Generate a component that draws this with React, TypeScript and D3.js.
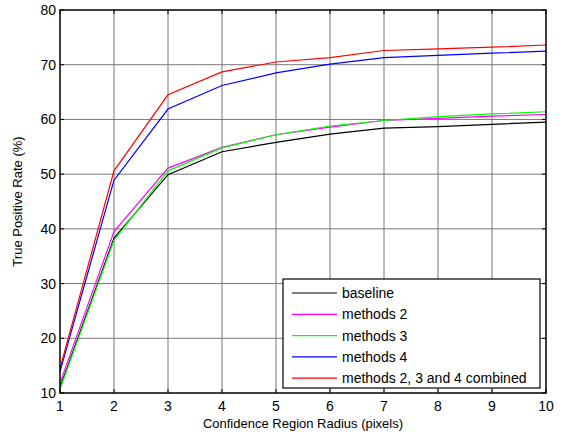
import React from "react";
import { scaleLinear, line, range } from "d3";

const radius = [1, 2, 3, 4, 5, 6, 7, 8, 9, 10];
const baseline = [11.0, 38.3, 49.9, 54.1, 55.8, 57.3, 58.4, 58.7, 59.1, 59.5];
const methods2 = [11.8, 39.5, 51.1, 54.9, 57.2, 58.6, 59.8, 60.2, 60.6, 60.9];
const methods3 = [10.7, 37.9, 50.6, 54.8, 57.2, 58.8, 59.8, 60.5, 61.0, 61.4];
const methods4 = [13.9, 48.9, 61.9, 66.2, 68.5, 70.1, 71.3, 71.7, 72.1, 72.5];
const combined = [14.5, 50.6, 64.5, 68.7, 70.5, 71.3, 72.6, 72.9, 73.2, 73.6];

const seriesNames = ["baseline", "methods 2", "methods 3", "methods 4", "methods 2, 3 and 4 combined"];
const seriesColors = ["#000000", "#ff00ff", "#00ff00", "#0000ff", "#ff0000"];
const seriesData = [baseline, methods2, methods3, methods4, combined];

const yTicks = [10, 20, 30, 40, 50, 60, 70, 80];

export default function App() {
    const width = 567;
    const height = 436;
    const margin = { left: 60, right: 21, top: 10, bottom: 43 };

    const x = scaleLinear().domain([1, 10]).range([margin.left, width - margin.right]);
    const y = scaleLinear().domain([10, 80]).range([height - margin.bottom, margin.top]);

    const path = line<number>()
        .x((_, i) => x(radius[i]))
        .y(d => y(d));

    const font = "Arial, 'Liberation Sans', sans-serif";
    const tick = 4;

    // legend box position
    const lg = { x: 283, y: 279, w: 257, h: 109 };

    return (
        <svg width={width} height={height} style={{ position: "absolute", left: 0, top: 0, background: "#fff" }}>
            <rect x={0} y={0} width={width} height={height} fill="#fff" />

            {/* grid */}
            {radius.slice(1, -1).map(r => (
                <line key={"gx" + r} x1={x(r)} x2={x(r)} y1={y(10)} y2={y(80)} stroke="#777" strokeWidth={1} />
            ))}
            {yTicks.slice(1, -1).map(t => (
                <line key={"gy" + t} x1={x(1)} x2={x(10)} y1={y(t)} y2={y(t)} stroke="#777" strokeWidth={1} />
            ))}

            {/* series */}
            {seriesData.map((d, i) => (
                <path key={i} d={path(d) || ""} fill="none" stroke={seriesColors[i]} strokeWidth={1.2} />
            ))}

            {/* ticks inward */}
            {radius.map(r => (
                <g key={"tx" + r}>
                    <line x1={x(r)} x2={x(r)} y1={y(10)} y2={y(10) - tick} stroke="#000" />
                    <line x1={x(r)} x2={x(r)} y1={y(80)} y2={y(80) + tick} stroke="#000" />
                    <text x={x(r)} y={y(10) + 18} textAnchor="middle" fontFamily={font} fontSize={14} fill="#000">
                        {r}
                    </text>
                </g>
            ))}
            {yTicks.map(t => (
                <g key={"ty" + t}>
                    <line x1={x(1)} x2={x(1) + tick} y1={y(t)} y2={y(t)} stroke="#000" />
                    <line x1={x(10)} x2={x(10) - tick} y1={y(t)} y2={y(t)} stroke="#000" />
                    <text x={x(1) - 4} y={y(t) + 5} textAnchor="end" fontFamily={font} fontSize={14} fill="#000">
                        {t}
                    </text>
                </g>
            ))}

            {/* axes box */}
            <rect x={x(1)} y={y(80)} width={x(10) - x(1)} height={y(10) - y(80)} fill="none" stroke="#000" strokeWidth={1.5} />

            {/* axis titles */}
            <text x={(x(1) + x(10)) / 2} y={428} textAnchor="middle" fontFamily={font} fontSize={13} fill="#000">
                Confidence Region Radius (pixels)
            </text>
            <text
                transform={`translate(22, ${(y(10) + y(80)) / 2}) rotate(-90)`}
                textAnchor="middle"
                fontFamily={font}
                fontSize={13}
                fill="#000"
            >
                True Positive Rate (%)
            </text>

            {/* legend */}
            <rect x={lg.x} y={lg.y} width={lg.w} height={lg.h} fill="#fff" stroke="#000" strokeWidth={1.2} />
            {range(seriesNames.length).map(i => {
                const ly = lg.y + 14 + i * 21.3;
                return (
                    <g key={"lg" + i}>
                        <line x1={lg.x + 9} x2={lg.x + 54} y1={ly} y2={ly} stroke={seriesColors[i]} strokeWidth={1.2} />
                        <text x={lg.x + 59} y={ly + 5} fontFamily={font} fontSize={14} fill="#000">
                            {seriesNames[i]}
                        </text>
                    </g>
                );
            })}
        </svg>
    );
}
